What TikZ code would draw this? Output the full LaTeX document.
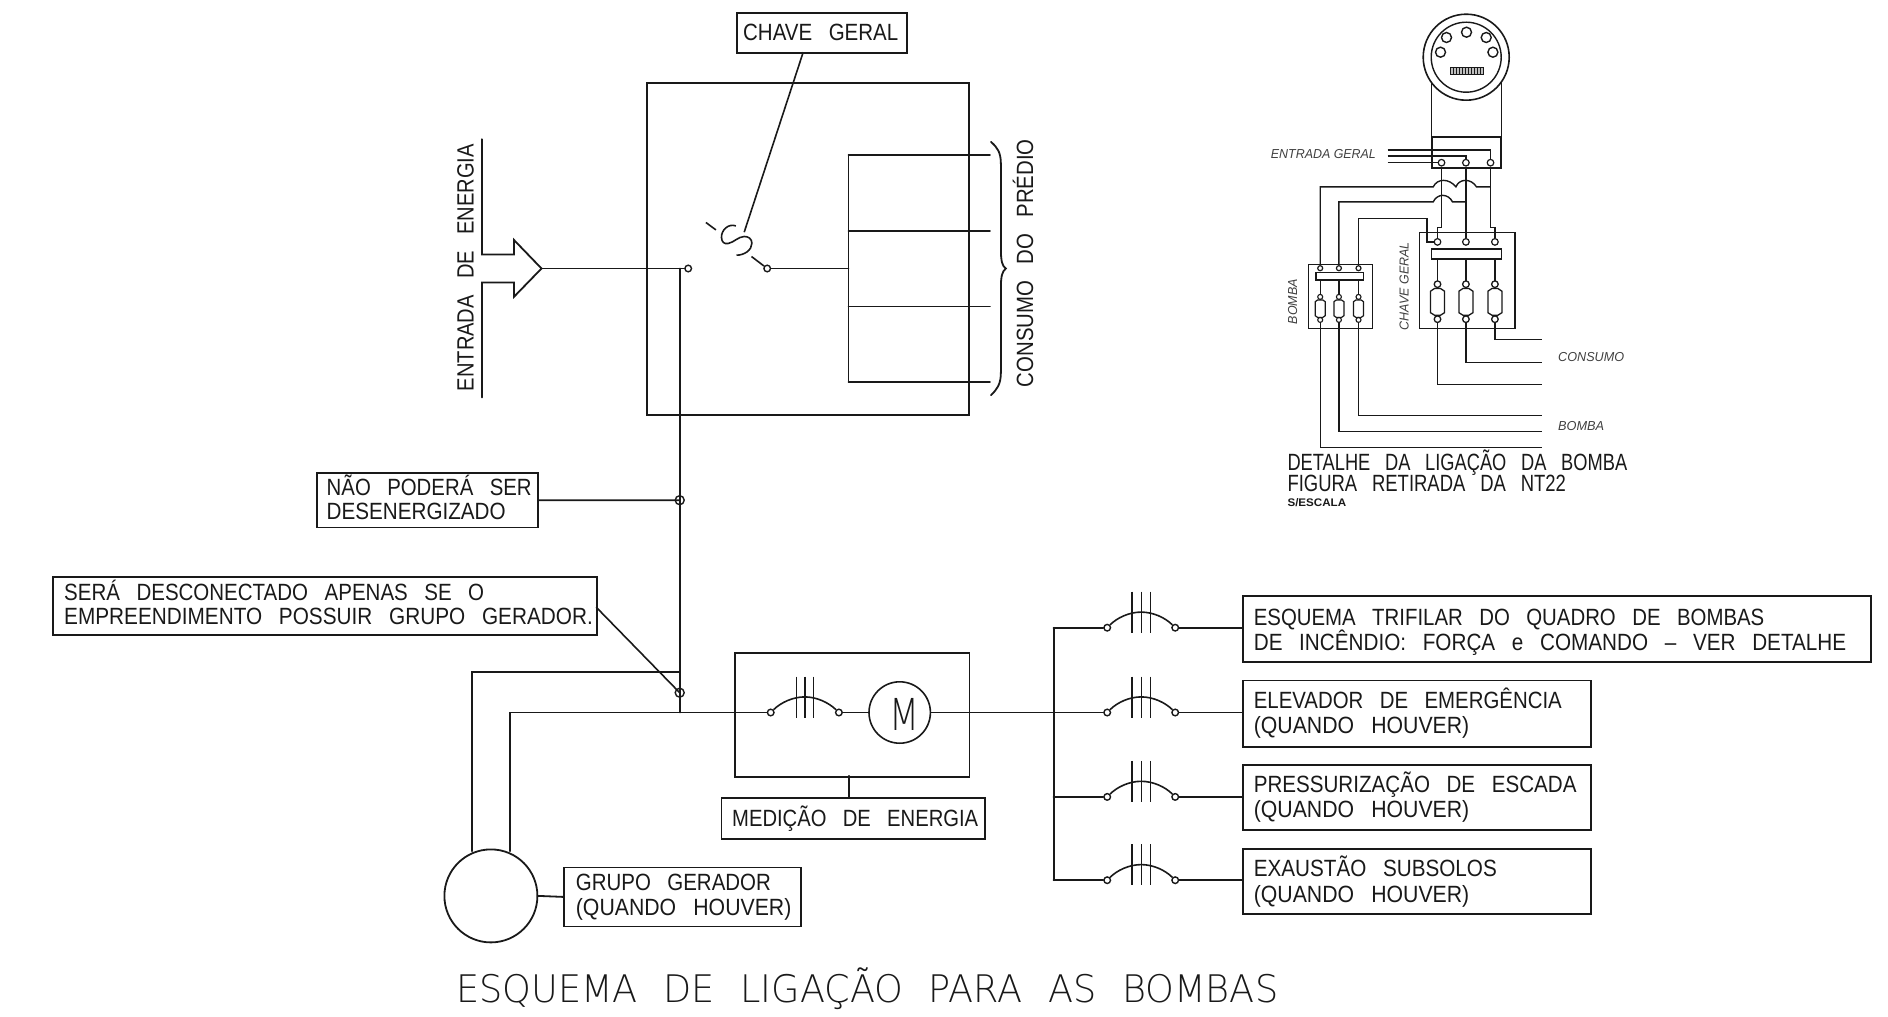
\documentclass[tikz,border=0pt]{standalone}
\usepackage{fontspec}
\setmainfont[WordSpace=2.9]{Liberation Sans}
\newfontfamily\smallfont{Liberation Sans}
\newfontfamily\lightfont[WordSpace=2.2]{DejaVu Sans ExtraLight}
\newcommand\WW[2]{\resizebox{#1pt}{\height}{#2}}
\tikzset{
  x=1pt,y=-1pt,
  ln/.style={line width=1.8pt,line cap=round,line join=miter,black!90},
  thin line/.style={line width=1.6pt,black!90},
  lab/.style={anchor=base west,inner sep=0,outer sep=0,font=\fontsize{23.5}{24}\selectfont,text=black!90},
  tiny lab/.style={anchor=base west,inner sep=0,outer sep=0,font=\smallfont\fontsize{13}{14}\selectfont\itshape,text=black!75},
  terminal/.style={circle,draw=black!90,fill=white,line width=1.4pt,inner sep=0,minimum size=6.6pt},
  small terminal/.style={terminal,minimum size=5pt,line width=1.2pt},
  framebox/.style={rectangle,draw=black!90,line width=1.8pt,inner sep=0,anchor=north west},
}
\newcommand\FRAME[5]{\node[framebox,minimum width=#4pt-#2pt,minimum height=#5pt-#3pt] (#1) at (#2,#3) {};}
\begin{document}
\begin{tikzpicture}
\useasboundingbox (0.8,0.8) rectangle (1888.8,1017.3);
% ---------- upper panel
\FRAME{panel}{646.7}{83}{969}{415}
\FRAME{chavebox}{737}{13}{907}{53}
\node[lab] (tchave) at (744,41) {\WW{155}{CHAVE GERAL}};
\coordinate (lead) at (745,233);
\draw[thin line] (804,53) -- (lead);
% arrow
\node[lab,rotate=90] (tentrada) at (474.3,392) {\WW{247}{ENTRADA DE ENERGIA}};
\coordinate (tip) at (542.3,269.3);
\draw[ln] (482.7,140) -- (482.7,255.3) -- (514.7,255.3) -- (514.7,240.7) -- (tip) -- (514.7,297.7) -- (514.7,283.3) -- (482.7,283.3) -- (482.7,398.3);
\node[terminal] (swl) at (689,269.3) {};
\node[terminal] (swr) at (768,269.3) {};
\draw[ln] (tip) -- (swl);
\draw[thin line] (706.7,223.3) -- (716.7,230.7);
\draw[thin line] (736.7,226.7) .. controls (729,224) and (722,231) .. (722.3,238.3) .. controls (722.5,243) and (725,245) .. (729,244.3) .. controls (735,243) and (739,237.5) .. (745,237.3) .. controls (749,237.2) and (752.7,239.5) .. (752.7,244) .. controls (752.7,251) and (745,256) .. (737.3,256);
\draw[thin line] (752.3,257.3) -- (swr);
\coordinate (rackin) at (849.3,269.3);
\draw[ln] (swr) -- (rackin);
\draw[ln] (849.3,155.7) -- (849.3,382.7);
\foreach \yy in {155.7,231.7,307.3,382.7}{\draw[ln] (849.3,\yy) -- (990.7,\yy);}
\draw[ln] (991.7,142.7) .. controls (998,148) and (1001.7,153) .. (1001.7,165) -- (1001.7,250) .. controls (1001.7,262) and (1003,267) .. (1006.7,269.3) .. controls (1003,272) and (1001.7,277) .. (1001.7,288) -- (1001.7,373) .. controls (1001.7,385) and (998,390) .. (991.7,396);
\node[lab,rotate=90] (tconsumo) at (1034,388) {\WW{248}{CONSUMO DO PRÉDIO}};
% vertical feeder
\node[circle,draw=black!90,line width=1.4pt,inner sep=0,minimum size=9pt] (j1) at (680.5,501) {};
\node[circle,draw=black!90,line width=1.4pt,inner sep=0,minimum size=9pt] (j2) at (680.5,693.5) {};
\coordinate (jtop) at (680.5,269.3);
\coordinate (jbot) at (680.5,713.3);
\draw[ln] (jtop) -- (jbot);
\FRAME{naobox}{316.6}{473}{538}{527.4}
\node[lab] (tnao1) at (327.5,496) {\WW{205}{NÃO PODERÁ SER}};
\node[lab] (tnao2) at (327.5,520) {\WW{179}{DESENERGIZADO}};
\draw[ln] (naobox.east) -- (j1.center);
\FRAME{serabox}{53}{576.7}{597}{634.5}
\node[lab] (tsera1) at (65,601) {\WW{420}{SERÁ DESCONECTADO APENAS SE O}};
\node[lab] (tsera2) at (65,625) {\WW{528.6}{EMPREENDIMENTO POSSUIR GRUPO GERADOR.}};
\draw[thin line] (597,608) -- (j2.center);
% generator
\node[circle,draw=black!90,line width=1.8pt,inner sep=0,minimum size=93pt] (gen) at (491.7,896.7) {};
\draw[ln] (473,852) -- (473,673) -- (680.5,673);
\draw[ln] (510.5,852) -- (510.5,713.3) -- (734.8,713.3);
\FRAME{genbox}{564}{867.3}{801}{926.3}
\node[lab] (tgen1) at (576.7,891.7) {\WW{195}{GRUPO GERADOR}};
\node[lab] (tgen2) at (576.7,916.7) {\WW{215.5}{(QUANDO HOUVER)}};
\draw[ln] (gen.east) -- (genbox.west);
% meter
\FRAME{medbox}{734.8}{652.7}{969.4}{776.7}
\FRAME{medlab}{721.4}{797.7}{985}{839}
\node[lab] (tmed) at (733,827) {\WW{246}{MEDIÇÃO DE ENERGIA}};
\draw[ln] (849.6,776.7) -- (849.6,797.7);
\node[circle,draw=black!90,line width=1.6pt,inner sep=0,minimum size=61.4pt] (mot) at (900.5,713.3) {};
\node[anchor=center,inner sep=0,font=\lightfont\fontsize{44}{44}\selectfont,text=black!90] (tm) at (905,715) {\resizebox{30pt}{\height}{M}};
\node[terminal] (c0a) at (771.5,713.3) {};
\node[terminal] (c0b) at (839.7,713.3) {};
\draw[ln] (734.8,713.3) -- (c0a);
\draw[ln] (c0b) -- (mot);
\draw[thin line] (c0a) .. controls (782,703) and (794,697.7) .. (805.6,697.7) .. controls (817,697.7) and (829,703) .. (c0b);
\foreach \xx in {797.2,806,814.4}{\draw[thin line] (\xx,677.3) -- (\xx,718.3);}
\coordinate (bus) at (1054.4,713.3);
\draw[ln] (mot) -- (bus);
\draw[ln] (1054.4,628.5) -- (1054.4,881);
% branches
\FRAME{out1}{1242.5}{596}{1871}{662}
\FRAME{out2}{1242.5}{680.3}{1590.5}{746.5}
\FRAME{out3}{1242.5}{764.5}{1590.5}{829.6}
\FRAME{out4}{1242.5}{848.8}{1590.5}{914}
\foreach \yy/\nn in {628.5/1,713.3/2,797.7/3,881/4}{
  \node[terminal] (a\nn) at (1108,\yy) {};
  \node[terminal] (b\nn) at (1176,\yy) {};
  \draw[ln] (1054.4,\yy) -- (a\nn);
  \draw[ln] (b\nn) -- (1242.5,\yy);
  \draw[thin line] (a\nn) .. controls (1118,\yy-10) and (1130,\yy-15.6) .. (1142,\yy-15.6) .. controls (1154,\yy-15.6) and (1166,\yy-10) .. (b\nn);
  \foreach \xx in {1132.8,1142.4,1151.2}{\draw[thin line] (\xx,\yy-36) -- (\xx,\yy+5);}
}
\node[lab] (to1a) at (1254.6,626) {\WW{510.5}{ESQUEMA TRIFILAR DO QUADRO DE BOMBAS}};
\node[lab] (to1b) at (1254.6,651.5) {\WW{592.4}{DE INCÊNDIO: FORÇA e COMANDO – VER DETALHE}};
\node[lab] (to2a) at (1254.6,709) {\WW{308}{ELEVADOR DE EMERGÊNCIA}};
\node[lab] (to2b) at (1254.6,734.5) {\WW{215.5}{(QUANDO HOUVER)}};
\node[lab] (to3a) at (1254.6,793.5) {\WW{322.7}{PRESSURIZAÇÃO DE ESCADA}};
\node[lab] (to3b) at (1254.6,818.5) {\WW{215.5}{(QUANDO HOUVER)}};
\node[lab] (to4a) at (1254.6,877.5) {\WW{243}{EXAUSTÃO SUBSOLOS}};
\node[lab] (to4b) at (1254.6,903) {\WW{215.5}{(QUANDO HOUVER)}};
\node[lab,font=\lightfont\fontsize{38}{40}\selectfont] (title) at (457,1003.3) {\WW{822}{ESQUEMA DE LIGAÇÃO PARA AS BOMBAS}};
% ---------- detail
\begin{scope}[every path/.style={line width=1.4pt,black!90}]
\node[circle,draw=black!90,line width=1.6pt,inner sep=0,minimum size=86pt] (m1) at (1467,58) {};
\node[circle,draw=black!90,line width=1.4pt,inner sep=0,minimum size=70pt] (m2) at (1467,58) {};
\foreach \xx/\yy in {1467.3/33,1447.3/38.3,1487/38.3,1441.3/53,1493.7/53}{\draw (\xx,\yy) circle[radius=5];}
\draw[line width=.7pt,fill=black!25] (1451,68) rectangle (1484,75);
\foreach \xx in {1454,1457,...,1482}{\draw[line width=.6pt] (\xx,68) -- (\xx,75);}
\draw (1432.3,83) -- (1432.3,138);
\draw (1502,83) -- (1502,138);
\draw[line width=2.4pt] (1432.5,138) rectangle (1502,169);
\node[terminal,line width=1.2pt] (t1) at (1442.3,163.5) {};
\node[terminal,line width=1.2pt] (t2) at (1466.7,163.5) {};
\node[terminal,line width=1.2pt] (t3) at (1491.3,163.5) {};
\draw (1388.3,150.7) -- (1491.3,150.7) -- (t3);
\draw (1388.3,156.7) -- (1466.7,156.7) -- (t2);
\draw (1388.3,163.5) -- (t1);
\node[tiny lab] (tent) at (1271.7,159.5) {\WW{105}{ENTRADA GERAL}};
% chave geral box
\node[framebox,draw=black!90,line width=1.4pt,minimum width=95.7pt,minimum height=95.6pt] (chv) at (1419.3,232.7) {};
\node[tiny lab,rotate=90] (tchv) at (1409.5,331) {\WW{88}{CHAVE GERAL}};
\node[small terminal,minimum size=6.6pt] (k1) at (1438.3,242.7) {};
\node[small terminal,minimum size=6.6pt] (k2) at (1466.7,242.7) {};
\node[small terminal,minimum size=6.6pt] (k3) at (1495.7,242.7) {};
\draw (t1) -- (1442.3,228) -- (1438.3,228) -- (k1);
\draw (t2) -- (k2);
\draw (t3) -- (1491.3,228) -- (1495.7,228) -- (k3);
\draw[line width=1.5pt,fill=white] (1432.3,250) rectangle (1502.3,260);
\foreach \xx in {1438.3,1466.7,1495.7}{
  \draw (\xx,260) -- (\xx,281.7);
  \draw[line width=1.3pt] (\xx,285) circle[radius=3.3];
  \draw[line width=1.3pt] (\xx-3,289.3) -- (\xx+3,289.3) -- (\xx+7,292) -- (\xx+7,313.5) -- (\xx+3,316) -- (\xx-3,316) -- (\xx-7,313.5) -- (\xx-7,292) -- cycle;
  \draw[line width=1.3pt] (\xx,320) circle[radius=3.3];
}
\draw (1438.3,323.3) -- (1438.3,385) -- (1542.3,385);
\draw (1466.7,323.3) -- (1466.7,363) -- (1542.3,363);
\draw (1495.7,323.3) -- (1495.7,340.3) -- (1542.3,340.3);
\node[tiny lab] (tcons) at (1559,362) {\WW{66}{CONSUMO}};
% bomba box
\node[framebox,draw=black!90,line width=1.4pt,minimum width=64pt,minimum height=63.6pt] (bmb) at (1308.3,264.7) {};
\node[tiny lab,rotate=90] (tbmb) at (1298,325) {\WW{45}{BOMBA}};
\node[tiny lab] (tbmb2) at (1559,431) {\WW{46}{BOMBA}};
\node[small terminal] (q1) at (1321,269) {};
\node[small terminal] (q2) at (1339.7,269) {};
\node[small terminal] (q3) at (1359.3,269) {};
\draw[line width=1.3pt,fill=white] (1316.7,273.3) rectangle (1364.3,280.7);
\foreach \xx in {1321,1339.7,1359.3}{
  \draw (\xx,280.7) -- (\xx,295.2);
  \draw[line width=1.1pt] (\xx,297.7) circle[radius=2.5];
  \draw[line width=1.2pt] (\xx-2.5,300.7) -- (\xx+2.5,300.7) -- (\xx+5,302.5) -- (\xx+5,316.5) -- (\xx+2.5,318.3) -- (\xx-2.5,318.3) -- (\xx-5,316.5) -- (\xx-5,302.5) -- cycle;
  \draw[line width=1.1pt] (\xx,320.7) circle[radius=2.5];
}
\draw (1321,323.2) -- (1321,448.3) -- (1542.3,448.3);
\draw (1339.7,323.2) -- (1339.7,432.3) -- (1542.3,432.3);
\draw (1359.3,323.2) -- (1359.3,416) -- (1542.3,416);
% routes from the top
\draw (q1) -- (1321,187.7) -- (1434,187.7) .. controls (1438,179) and (1450,179) .. (1456.7,187.7) .. controls (1460,179) and (1472,179) .. (1477.3,187.7) -- (1491.3,187.7);
\draw (q2) -- (1339.7,202.7) -- (1434,202.7) .. controls (1438,194) and (1449,194) .. (1453.3,202.7) -- (1466.7,202.7);
\draw (q3) -- (1359.3,219.3) -- (1427.7,219.3) -- (1427.7,242.7) -- (k1);
\end{scope}
\node[lab] (td1) at (1288.3,471) {\WW{339.7}{DETALHE DA LIGAÇÃO DA BOMBA}};
\node[lab] (td2) at (1288.3,492.5) {\WW{278.4}{FIGURA RETIRADA DA NT22}};
\node[lab,font=\smallfont\bfseries\fontsize{11}{12}\selectfont] (td3) at (1288.3,507) {\WW{58.7}{S/ESCALA}};
\end{tikzpicture}
\end{document}
